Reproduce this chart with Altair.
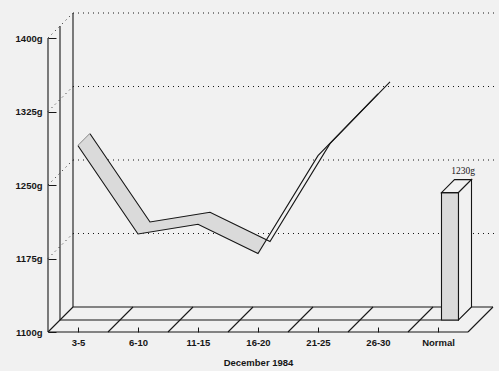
import json
import altair as alt
import pandas as pd

# ---- data ----
categories = ["3-5", "6-10", "11-15", "16-20", "21-25", "26-30"]
weights = [1290, 1200, 1210, 1180, 1280, 1343]
normal_category = "Normal"
normal_weight = 1230
normal_text = "1230g"
y_ticks = [1100, 1175, 1250, 1325, 1400]
x_title = "December 1984"

# ---- layout / style constants ----
all_labels = categories + [normal_category]
N = len(all_labels)
Y_MIN, Y_MAX = 1100, 1400
W, H = 420, 294
UX = N / W                      # x data units per pixel
UY = (Y_MAX - Y_MIN) / H        # y data units per pixel
D_MID, D_BACK = 12, 25          # depth of ribbon / back wall in px
BAR_HALF = 8.5                  # half bar width in px
INK = "#161616"
BG = "#f1f1f1"
SHADE = "#dadada"
FONT = "Liberation Sans"


def proj(x, y, depth):
    """oblique projection: depth in px goes up-right"""
    return x + depth * UX, y + depth * UY


xscale = alt.Scale(domain=[0, N], nice=False, zero=False)
yscale = alt.Scale(domain=[Y_MIN, Y_MAX], nice=False, zero=False)
label_expr = json.dumps(all_labels) + "[floor(datum.value)]"

x_axis = alt.Axis(values=[i + 0.5 for i in range(N)], labelExpr=label_expr,
                  offset=-5, tickSize=5, domain=False, grid=False,
                  tickColor=INK, labelColor=INK, labelFont=FONT,
                  labelFontSize=9.5, labelFontWeight="bold", labelPadding=5,
                  title=x_title, titleFont=FONT, titleFontSize=9.5,
                  titleFontWeight="bold", titleColor=INK, titlePadding=11)
y_axis = alt.Axis(values=y_ticks, labelExpr="datum.value + 'g'",
                  offset=-8, tickSize=8, domain=False, grid=False,
                  tickColor=INK, labelColor=INK, labelFont=FONT,
                  labelFontSize=9.5, labelFontWeight="bold", labelPadding=6,
                  title=None)


def X(f):
    return alt.X(f"{f}:Q", scale=xscale, axis=x_axis)


def Y(f):
    return alt.Y(f"{f}:Q", scale=yscale, axis=y_axis)


centers = [i + 0.5 for i in range(len(categories))]

# ---- solid structural lines (walls, floor) ----
solid = []
for d in (0, D_MID, D_BACK):
    (xa, ya), (xb, yb) = proj(0, Y_MIN, d), proj(0, Y_MAX, d)
    solid.append((xa, ya, xb, yb))
c_bar = N - 0.5
h_bar = BAR_HALF * UX
for d, xe in ((0, N), (D_MID, c_bar + h_bar), (D_BACK, N)):
    (xa, ya), (xb, yb) = proj(0, Y_MIN, d), proj(xe, Y_MIN, d)
    solid.append((xa, ya, xb, yb))
for k in range(N + 1):
    (xa, ya), (xb, yb) = proj(k, Y_MIN, 0), proj(k, Y_MIN, D_BACK)
    solid.append((xa, ya, xb, yb))
(xa, ya), (xb, yb) = proj(centers[0], weights[0], 0), proj(centers[0], weights[0], D_MID)
solid.append((xa, ya, xb, yb))
solid_df = pd.DataFrame(solid, columns=["x", "y", "x2", "y2"])

# ---- dotted lines (back grid, wall diagonals) ----
dotted = []
for t in y_ticks[1:]:
    (xa, ya), (xb, yb) = proj(0, t, D_BACK), proj(N, t, D_BACK + 4)
    dotted.append((xa, ya, xb, ya))
    (xa, ya), (xb, yb) = proj(0, t, 0), proj(0, t, D_BACK)
    dotted.append((xa, ya, xb, yb))
dotted_df = pd.DataFrame(dotted, columns=["x", "y", "x2", "y2"])

# ---- ribbon faces ----
rib = []
for i in range(len(categories) - 1):
    x0, y0, x1, y1 = centers[i], weights[i], centers[i + 1], weights[i + 1]
    rise_px, run_px = (y1 - y0) / UY, (x1 - x0) / UX
    col = SHADE if rise_px < run_px else BG
    pts = [proj(x0, y0, 0), proj(x1, y1, 0), proj(x1, y1, D_MID), proj(x0, y0, D_MID)]
    for j, (px, py) in enumerate(pts):
        rib.append({"seg": i, "ord": j, "x": px, "y": py, "fill": col})
rib_df = pd.DataFrame(rib)

edges = []
for d, name in ((0, "front"), (D_MID, "back")):
    for j, (cx, w) in enumerate(zip(centers, weights)):
        px, py = proj(cx, w, d)
        edges.append({"edge": name, "ord": j, "x": px, "y": py})
edges_df = pd.DataFrame(edges)

# ---- bar faces ----
bar = []
faces = [
    ("front", SHADE, [(c_bar - h_bar, Y_MIN, D_MID), (c_bar + h_bar, Y_MIN, D_MID),
                      (c_bar + h_bar, normal_weight, D_MID), (c_bar - h_bar, normal_weight, D_MID)]),
    ("top", BG, [(c_bar - h_bar, normal_weight, D_MID), (c_bar + h_bar, normal_weight, D_MID),
                 (c_bar + h_bar, normal_weight, D_BACK), (c_bar - h_bar, normal_weight, D_BACK)]),
    ("side", BG, [(c_bar + h_bar, Y_MIN, D_MID), (c_bar + h_bar, normal_weight, D_MID),
                  (c_bar + h_bar, normal_weight, D_BACK), (c_bar + h_bar, Y_MIN, D_BACK)]),
]
for name, col, pts in faces:
    for j, (px, py, d) in enumerate(pts):
        qx, qy = proj(px, py, d)
        bar.append({"face": name, "ord": j, "x": qx, "y": qy, "fill": col})
bar_df = pd.DataFrame(bar)

tx, ty = proj(c_bar, normal_weight, D_BACK)
label_df = pd.DataFrame({"x": [tx], "y": [ty], "text": [normal_text]})

# ---- layers ----
dotted_layer = alt.Chart(dotted_df).mark_rule(
    color=INK, strokeWidth=1, strokeDash=[1, 4]
).encode(x=X("x"), y=Y("y"), x2=alt.X2("x2"), y2=alt.Y2("y2"))

solid_layer = alt.Chart(solid_df).mark_rule(color=INK, strokeWidth=1.1).encode(
    x=X("x"), y=Y("y"), x2=alt.X2("x2"), y2=alt.Y2("y2"))

rib_layer = alt.Chart(rib_df).mark_line(
    interpolate="linear-closed", strokeWidth=0.6
).encode(x=X("x"), y=Y("y"), order="ord:Q", detail="seg:N",
         fill=alt.Fill("fill:N", scale=None), stroke=alt.Stroke("fill:N", scale=None))

edge_layer = alt.Chart(edges_df).mark_line(color=INK, strokeWidth=1.1).encode(
    x=X("x"), y=Y("y"), order="ord:Q", detail="edge:N")

bar_layer = alt.Chart(bar_df).mark_line(
    interpolate="linear-closed", stroke=INK, strokeWidth=1.1
).encode(x=X("x"), y=Y("y"), order="ord:Q", detail="face:N",
         fill=alt.Fill("fill:N", scale=None))

text_layer = alt.Chart(label_df).mark_text(
    font="Liberation Serif", fontSize=9.5, color=INK, dy=-9
).encode(x=X("x"), y=Y("y"), text="text:N")

chart = alt.layer(dotted_layer, solid_layer, rib_layer, edge_layer, bar_layer, text_layer).properties(
    width=W, height=H, autosize="none",
    padding={"left": 48, "top": 38, "right": 31, "bottom": 39},
    background=BG,
).configure_view(stroke=None)

chart.save("out.html", embed_options={"renderer": "svg", "actions": False})
